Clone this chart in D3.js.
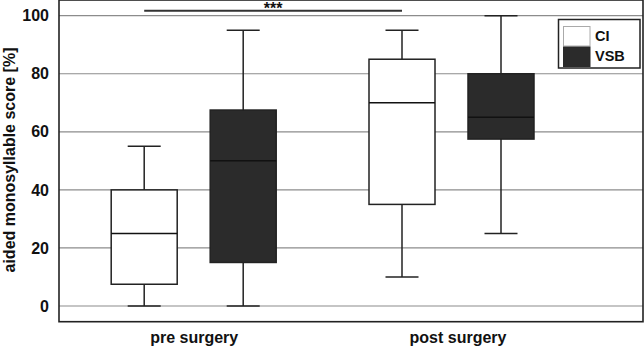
<!DOCTYPE html>
<html>
<head>
<meta charset="utf-8">
<script src="https://cdn.jsdelivr.net/npm/d3@7"></script>
<style>
    body { margin: 0; background: #fff; }
    text { font-family: "Liberation Sans", Arial, sans-serif; font-weight: bold; fill: #111; }
</style>
</head>
<body>
<svg id="chart"></svg>
<script>
// box plot values, one entry per box: pre CI, pre VSB, post CI, post VSB
var groups = ["pre surgery", "post surgery"]
var devices = ["CI", "VSB"]
var boxGroup = ["pre surgery", "pre surgery", "post surgery", "post surgery"]
var boxDevice = ["CI", "VSB", "CI", "VSB"]
var mins = [0, 0, 10, 25]
var q1s = [7.5, 15, 35, 57.5]
var medians = [25, 50, 70, 65]
var q3s = [40, 67.5, 85, 80]
var maxs = [55, 95, 95, 100]
var yTicks = [0, 20, 40, 60, 80, 100]

var dimensions = {
    width: 644,
    height: 349,
    margin: {
        top: 0,
        bottom: 27.3,
        right: 1,
        left: 59
    }
}

var svg = d3.select("#chart")
    .attr("width", dimensions.width)
    .attr("height", dimensions.height)

var plotRight = dimensions.width - dimensions.margin.right
var plotBottom = dimensions.height - dimensions.margin.bottom

var boxes = d3.range(mins.length).map(function (i) {
    return { group: boxGroup[i], device: boxDevice[i], min: mins[i], q1: q1s[i], median: medians[i], q3: q3s[i], max: maxs[i] }
})

var xScale = d3.scalePoint()
    .domain(groups)
    .range([dimensions.margin.left + 134.7, plotRight - 191.5])

var xSub = d3.scalePoint()
    .domain(devices)
    .range([-49.5, 49.5])

var yScale = d3.scaleLinear()
    .domain([-5.4, 105.4])
    .range([plotBottom, dimensions.margin.top])

var boxWidth = 66
var capWidth = 33
var cx = d => xScale(d.group) + xSub(d.device)
var fills = { "CI": "#ffffff", "VSB": "#2b2b2b" }

// grid lines
svg.append("g")
    .selectAll("line")
    .data(yTicks)
    .enter()
    .append("line")
    .attr("x1", dimensions.margin.left)
    .attr("x2", plotRight)
    .attr("y1", d => yScale(d))
    .attr("y2", d => yScale(d))
    .attr("stroke", "#8c8c8c")
    .attr("stroke-width", 1.2)

// significance bar
svg.append("line")
    .attr("x1", xScale(groups[0]) + xSub("CI"))
    .attr("x2", xScale(groups[1]) + xSub("CI"))
    .attr("y1", 10.7)
    .attr("y2", 10.7)
    .attr("stroke", "#333")
    .attr("stroke-width", 2)

svg.append("text")
    .attr("x", (xScale(groups[0]) + xScale(groups[1])) / 2 + xSub("CI"))
    .attr("y", 13.5)
    .attr("text-anchor", "middle")
    .style("font-size", "16px")
    .text("***")

var box = svg.append("g")
    .selectAll("g")
    .data(boxes)
    .enter()
    .append("g")

// whiskers
box.append("line")
    .attr("x1", cx).attr("x2", cx)
    .attr("y1", d => yScale(d.min))
    .attr("y2", d => yScale(d.max))
    .attr("stroke", "#222")
    .attr("stroke-width", 1.5)

box.append("line")
    .attr("x1", d => cx(d) - capWidth / 2).attr("x2", d => cx(d) + capWidth / 2)
    .attr("y1", d => yScale(d.max)).attr("y2", d => yScale(d.max))
    .attr("stroke", "#222")
    .attr("stroke-width", 1.5)

box.append("line")
    .attr("x1", d => cx(d) - capWidth / 2).attr("x2", d => cx(d) + capWidth / 2)
    .attr("y1", d => yScale(d.min)).attr("y2", d => yScale(d.min))
    .attr("stroke", "#222")
    .attr("stroke-width", 1.5)

box.append("rect")
    .attr("x", d => cx(d) - boxWidth / 2)
    .attr("y", d => yScale(d.q3))
    .attr("width", boxWidth)
    .attr("height", d => yScale(d.q1) - yScale(d.q3))
    .attr("fill", d => fills[d.device])
    .attr("stroke", "#222")
    .attr("stroke-width", 1.5)

box.append("line")
    .attr("x1", d => cx(d) - boxWidth / 2).attr("x2", d => cx(d) + boxWidth / 2)
    .attr("y1", d => yScale(d.median)).attr("y2", d => yScale(d.median))
    .attr("stroke", "#111")
    .attr("stroke-width", 1.5)

// frame
svg.append("rect")
    .attr("x", dimensions.margin.left)
    .attr("y", dimensions.margin.top)
    .attr("width", plotRight - dimensions.margin.left)
    .attr("height", plotBottom - dimensions.margin.top)
    .attr("fill", "none")
    .attr("stroke", "#222")
    .attr("stroke-width", 1.6)

var yAxisGen = d3.axisLeft().scale(yScale)
    .tickValues(yTicks)
    .tickSize(0)
    .tickPadding(10)
var yAxis = svg.append("g")
    .call(yAxisGen)
    .style("transform", `translateX(${dimensions.margin.left}px)`)
yAxis.select(".domain").remove()
yAxis.selectAll("text")
    .style("font-size", "16px")
    .style("font-family", "'Liberation Sans', Arial, sans-serif")
    .style("font-weight", "bold")
    .attr("fill", "#111")

// x labels
svg.append("g")
    .selectAll("text")
    .data(groups)
    .enter()
    .append("text")
    .attr("x", (d, i) => xScale(d) + (i == 0 ? 0.5 : 6.5))
    .attr("y", 343)
    .attr("text-anchor", "middle")
    .style("font-size", "16px")
    .text(d => d)

// Y axis label
svg.append("text")
    .attr("text-anchor", "middle")
    .attr("transform", "rotate(-90)")
    .attr("x", -160)
    .attr("y", 15)
    .style("font-size", "16px")
    .text("aided monosyllable score [%]")

// legend
var legend = svg.append("g")
legend.append("rect")
    .attr("x", 558.5).attr("y", 19.5)
    .attr("width", 81.5).attr("height", 48.5)
    .attr("fill", "#fff")
    .attr("stroke", "#222")
    .attr("stroke-width", 1.5)

legend.selectAll(".sw")
    .data(devices)
    .enter()
    .append("rect")
    .attr("x", 563.5)
    .attr("y", (d, i) => 26.5 + i * 20.5)
    .attr("width", 26.5)
    .attr("height", 19.5)
    .attr("fill", d => fills[d])
    .attr("stroke", (d, i) => i == 0 ? "#aaa" : "#2b2b2b")
    .attr("stroke-width", 1)

legend.selectAll(".lb")
    .data(devices)
    .enter()
    .append("text")
    .attr("x", 595)
    .attr("y", (d, i) => 41 + i * 20.3)
    .style("font-size", "14.5px")
    .text(d => d)
</script>
</body>
</html>
